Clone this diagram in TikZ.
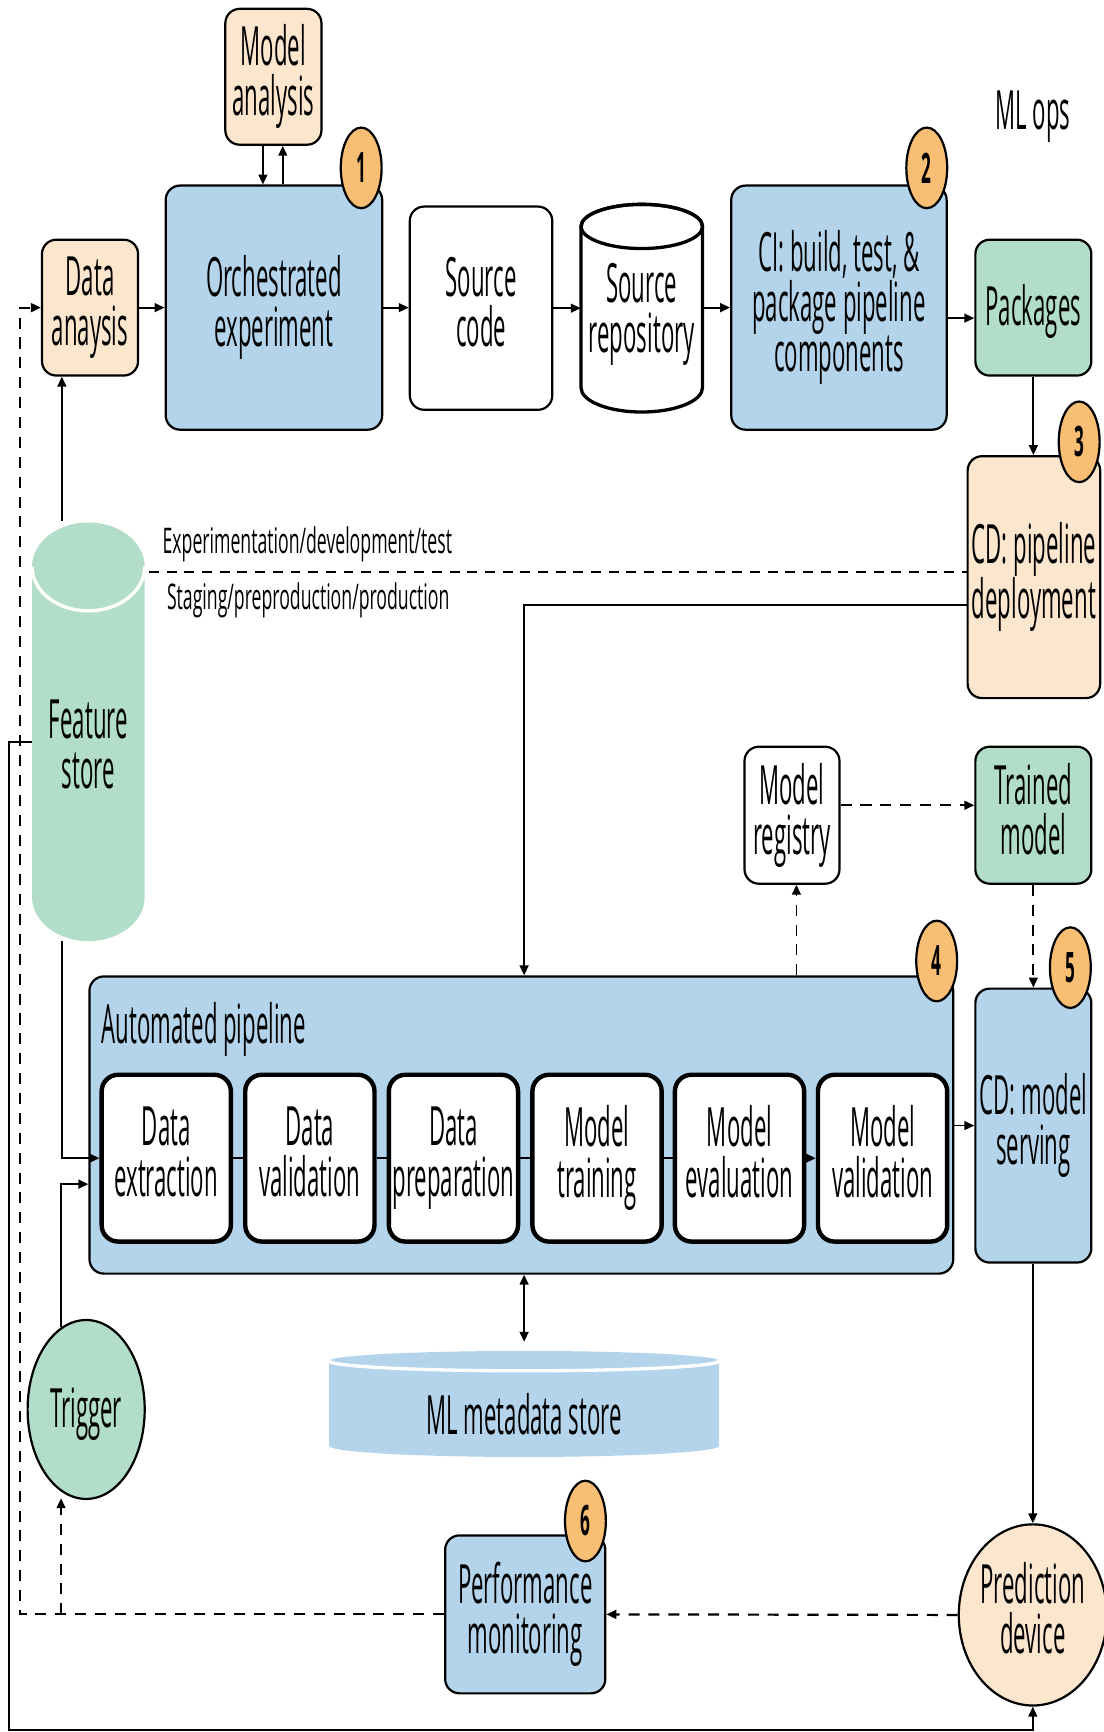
\documentclass[tikz,border=0pt]{standalone}
\usepackage{fontspec}
\setmainfont{Open Sans}[FakeStretch=0.41]
\newfontfamily\seplabelfont{Open Sans}[FakeStretch=0.5]
\usetikzlibrary{arrows.meta,shapes.geometric}
\definecolor{cblue}{RGB}{179,212,234}
\definecolor{cpeach}{RGB}{252,230,206}
\definecolor{cgreen}{RGB}{178,222,201}
\definecolor{corange}{RGB}{248,190,116}
\begin{document}
\begin{tikzpicture}[x=1pt,y=-1pt,
  txt/.style={font=\fontsize{49}{45.5}\selectfont, align=center, text=black,
    execute at begin node={\rule{0pt}{45pt}},
    execute at end node={\rule[-12pt]{0pt}{12pt}}},
  rbox/.style={txt, draw=black, line width=2pt, rounded corners=13pt, inner sep=0pt},
  stepbox/.style={txt, draw=black, fill=white, line width=4pt, rounded corners=15pt, inner sep=0pt, minimum width=117pt, minimum height=151pt},
  badge/.style={ellipse, draw=black, line width=2pt, fill=corange, minimum width=37pt, minimum height=73pt, inner sep=0pt, font=\fontsize{38}{38}\selectfont\bfseries},
  seplabel/.style={font=\seplabelfont\fontsize{32}{32}\selectfont, anchor=base west, inner sep=0pt},
  plain/.style={line width=1.6pt},
  conn/.style={line width=1.6pt, -{Triangle[length=9pt,width=8pt]}},
  dconn/.style={conn, dash pattern=on 10pt off 8pt},
  dblconn/.style={line width=1.6pt, {Triangle[length=9pt,width=8pt]}-{Triangle[length=9pt,width=8pt]}}
]
\useasboundingbox (0,0) rectangle (999,1568);

% ---------- boxes: top row ----------
\node[rbox, fill=cpeach, minimum width=87pt, minimum height=123pt] (ma) at (247.5,69.5) {Model\\analysis};
\node[rbox, fill=cblue, minimum width=196pt, minimum height=221pt] (oe) at (248,278.5) {Orchestrated\\experiment};
\node[rbox, fill=cpeach, minimum width=87pt, minimum height=123pt] (da) at (81.5,278.5) {Data\\anaysis};
\node[rbox, fill=white, minimum width=129pt, minimum height=184pt] (sc) at (435.5,279) {Source\\code};

% source repository cylinder
\draw[line width=3pt, fill=white] (526,205) -- (526,351)
  arc[start angle=180,end angle=360,x radius=55pt,y radius=22pt] -- (636,205)
  arc[start angle=0,end angle=180,x radius=55pt,y radius=20pt] -- cycle;
\draw[line width=3pt] (581,205) ellipse[x radius=55pt, y radius=20pt];
\node[inner sep=0pt, minimum width=110pt, minimum height=187pt] (repo) at (581,279.5) {};
\node[txt] (repotext) at (581,285) {Source\\repository};

\node[rbox, fill=cblue, minimum width=195pt, minimum height=221pt] (ci) at (759.5,278.5) {CI: build, test, \&\\package pipeline\\components};
\node[rbox, fill=cgreen, minimum width=105pt, minimum height=123pt] (pk) at (935.5,278.5) {Packages};
\node[txt] (title) at (935,100.5) {ML ops};

\node[rbox, fill=cpeach, minimum width=120pt, minimum height=219pt] (cdpd) at (936,522.5) {CD: pipeline\\deployment};

% feature store cylinder
\fill[cgreen] (29,513) -- (29,812)
  arc[start angle=180,end angle=360,x radius=51pt,y radius=40pt] -- (131,513)
  arc[start angle=0,end angle=180,x radius=51pt,y radius=40pt] -- cycle;
\draw[white, line width=3pt] (29,513) arc[start angle=180,end angle=360,x radius=51pt,y radius=40pt];
\node[inner sep=0pt, minimum width=102pt, minimum height=380pt] (fs) at (80,662) {};
\node[txt] (fstext) at (80,680) {Feature\\store};

% separator labels
\node[seplabel] (lab1) at (147,501) {Experimentation/development/test};
\node[seplabel] (lab2) at (151,552) {Staging/preproduction/production};

\node[rbox, fill=white, minimum width=86pt, minimum height=124pt] (mr) at (717,738) {Model\\registry};
\node[rbox, fill=cgreen, minimum width=105pt, minimum height=124pt] (tm) at (935.5,738) {Trained\\model};

% ---------- automated pipeline ----------
\node[rbox, fill=cblue, minimum width=782pt, minimum height=269pt] (ap) at (472,1018.5) {};
\node[font=\fontsize{49}{46}\selectfont, anchor=base west, inner sep=0pt] (aplabel) at (92,945) {Automated pipeline};
\node[stepbox] (s1) at (150.5,1048.5) {Data\\extraction};
\node[stepbox] (s2) at (280.5,1048.5) {Data\\validation};
\node[stepbox] (s3) at (410.5,1048.5) {Data\\preparation};
\node[stepbox] (s4) at (540.5,1048.5) {Model\\training};
\node[stepbox] (s5) at (669.5,1048.5) {Model\\evaluation};
\node[stepbox] (s6) at (799,1048.5) {Model\\validation};

\node[rbox, fill=cblue, minimum width=105pt, minimum height=248pt] (cdms) at (935.5,1019) {CD: model\\serving};

% ---------- bottom ----------
\node[txt, ellipse, draw=black, line width=2pt, fill=cgreen, minimum width=106pt, minimum height=162pt, inner sep=0pt] (trig) at (78,1276) {Trigger};

\fill[cblue] (298,1232) -- (298,1309)
  arc[start angle=180,end angle=360,x radius=176.5pt,y radius=10pt] -- (651,1232)
  arc[start angle=0,end angle=180,x radius=176.5pt,y radius=9pt] -- cycle;
\draw[white, line width=3pt] (298,1232) arc[start angle=180,end angle=360,x radius=176.5pt,y radius=9pt];
\node[inner sep=0pt, minimum width=353pt, minimum height=96pt] (mms) at (474.5,1271) {};
\node[txt] (mmstext) at (474.5,1282) {ML metadata store};

\node[rbox, fill=cblue, minimum width=145pt, minimum height=143pt] (pm) at (475.5,1461.5) {Performance\\monitoring};
\node[txt, ellipse, draw=black, line width=2pt, fill=cpeach, minimum width=126pt, minimum height=164pt, inner sep=0pt] (pd) at (935,1462) {Prediction\\device};

% ---------- connectors ----------
\coordinate (xdown) at (238,0);
\coordinate (xup) at (256,0);
\draw[conn] (ma.south -| xdown) -- (oe.north -| xdown);
\draw[conn] (oe.north -| xup) -- (ma.south -| xup);

\draw[conn] (da.east) -- (oe.west);
\draw[conn] (oe.east) -- (sc.west |- oe.east);
\draw[conn] (sc.east) -- (repo.west |- sc.east);
\draw[conn] (repo.east |- ci.west) -- (ci.west);
\coordinate (pky) at (0,288);
\draw[conn] (ci.east |- pky) -- (pk.west |- pky);
\draw[conn] (pk.south) -- (pk.south |- cdpd.north);

\coordinate (seps) at (135,518);
\draw[line width=1.3pt, dash pattern=on 9pt off 7pt] (seps) -- (cdpd.west |- seps);

\coordinate (cdy) at (0,548);
\draw[conn] (cdpd.west |- cdy) -| (ap.north -| mms.north);

\coordinate (mry) at (0,729);
\draw[dconn] (mr.east |- mry) -- (tm.west |- mry);
\draw[dconn] (tm.south) -- (cdms.north -| tm.south);
\coordinate (apmr) at (721,0);
\draw[dconn] (ap.north -| apmr) -- (mr.south -| apmr);

\draw[plain] (s1.east) -- (s2.west);
\draw[plain] (s2.east) -- (s3.west);
\draw[plain] (s3.east) -- (s4.west);
\draw[plain] (s4.east) -- (s5.west);
\draw[conn] (s5.east) -- (s6.west);

\draw[conn] (ap.east |- cdms.west) -- (cdms.west);
\draw[conn] (pd.north |- cdms.south) -- (pd.north);
\draw[dblconn] (ap.south -| mms.north) -- ([yshift=8pt]mms.north);

\coordinate (fsx) at (56,0);
\draw[conn] (fs.north -| fsx) -- (da.south -| fsx);
\draw[conn] (fs.south -| fsx) |- (s1.west);
\coordinate (tly) at (0,1072);
\draw[conn] (trig.107) |- (ap.west |- tly);

\coordinate (fsy) at (0,672);
\coordinate (botl) at (8,1566);
\draw[conn] (fs.west |- fsy) -| (botl) -| (pd.south);

\coordinate (dlx) at (18,0);
\draw[dconn, line width=2pt] (pm.west) -| (dlx |- da.west) -- (da.west);
\draw[dconn, shorten >=6pt] (pm.west -| trig.253) -- (trig.253);
\draw[dconn, line width=2pt] (pd.west) -- (pm.east);

% ---------- badges ----------
\node[badge] (b1) at (327,152) {1};
\node[badge] (b2) at (839,152) {2};
\node[badge] (b3) at (977,400) {3};
\node[badge] (b4) at (848,870) {4};
\node[badge] (b5) at (969,876) {5};
\node[badge] (b6) at (530,1377) {6};
\end{tikzpicture}
\end{document}
